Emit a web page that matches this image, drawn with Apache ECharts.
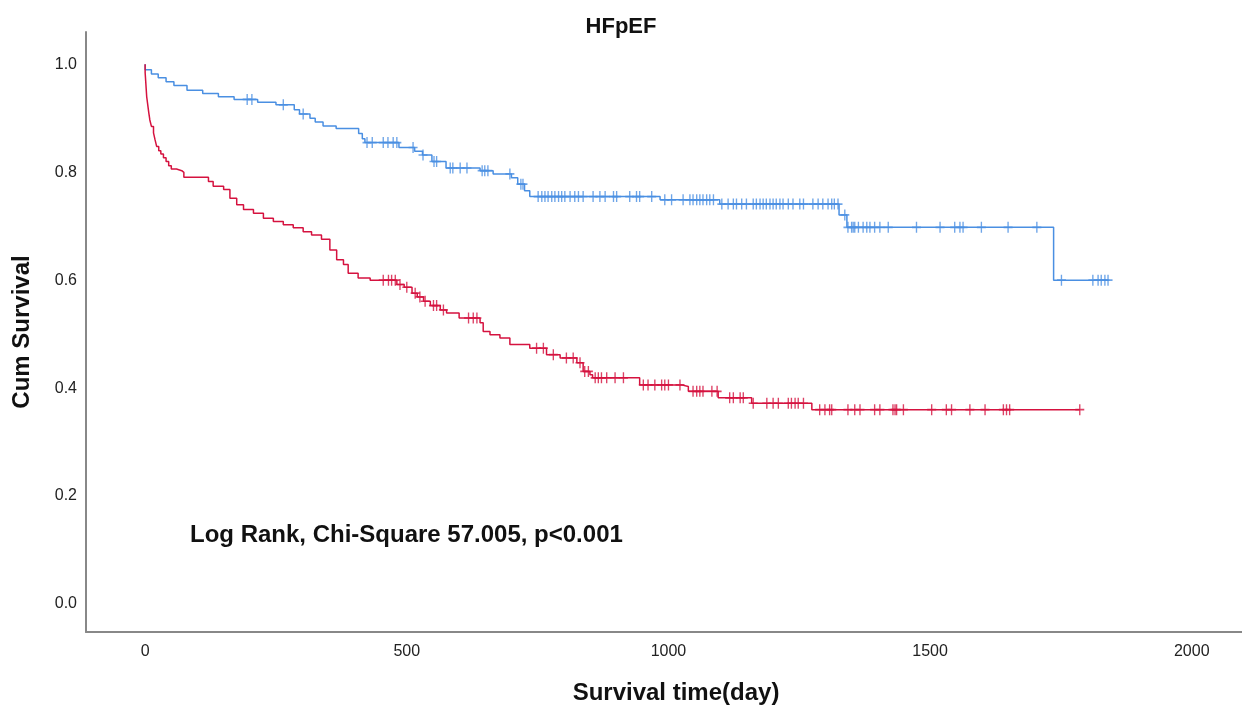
<!DOCTYPE html>
<html>
<head>
<meta charset="utf-8">
<title>HFpEF</title>
<script src="https://cdn.jsdelivr.net/npm/echarts@6.0.0/dist/echarts.min.js"></script>
<style>
  html, body { margin: 0; padding: 0; background: #fff; }
  #chart { width: 1242px; height: 706px; }
</style>
</head>
<body>
<div id="chart"></div>
<script>
// Kaplan-Meier curves, values
// step times (day) and survival after each step

var xTicks = [0, 500, 1000, 1500, 2000];
var yTicks = [0, 0.2, 0.4, 0.6, 0.8, 1.0];

var blueTimes = [0, 12, 25, 40, 55, 80, 110, 140, 170, 215, 250, 285, 295, 315, 325, 340, 365,
  408, 415, 420, 485, 515, 530, 548, 575, 640, 665, 700, 712, 725, 735, 984, 1098, 1326, 1341, 1736];
var blueSurv = [0.99, 0.982, 0.975, 0.968, 0.961, 0.952, 0.946, 0.94, 0.935, 0.93, 0.925, 0.916, 0.908, 0.9, 0.893, 0.886, 0.881,
  0.872, 0.862, 0.855, 0.846, 0.839, 0.832, 0.82, 0.808, 0.803, 0.797, 0.79, 0.778, 0.766, 0.755, 0.749, 0.741, 0.721, 0.698, 0.6];
var blueCensor = [195, 204, 264, 302, 424, 434, 455, 464, 474, 481, 512, 531, 552, 557, 583, 588, 602, 615,
  644, 649, 655, 697, 718, 722, 751, 758, 764, 770, 777, 783, 790, 796, 802, 812, 821, 828, 837, 856, 869, 879,
  895, 901, 926, 939, 945, 968, 993, 1006, 1028, 1041, 1047, 1054, 1060, 1066, 1073, 1079, 1086, 1102, 1114,
  1124, 1130, 1140, 1149, 1162, 1168, 1175, 1181, 1187, 1194, 1200, 1206, 1213, 1219, 1229, 1238, 1251, 1258,
  1276, 1286, 1295, 1305, 1312, 1317, 1324, 1337, 1343, 1350, 1353, 1356, 1363, 1372, 1379, 1385, 1394, 1404,
  1420, 1474, 1519, 1547, 1557, 1563, 1598, 1649, 1704, 1751, 1811, 1821, 1827, 1834, 1840];

var redTimes = [0, 1, 2, 3, 5, 7, 9, 12, 16, 19, 22, 26, 30, 35, 40, 45, 50, 60, 70, 74, 121, 130, 150, 162, 175,
  188, 207, 226, 245, 264, 283, 302, 318, 337, 353, 366, 379, 388, 407, 430, 481, 495, 510, 520, 532, 545, 564,
  576, 600, 640, 646, 659, 678, 697, 735, 767, 793, 825, 837, 850, 855, 945, 1025, 1038, 1095, 1159, 1274];
var redSurv = [0.985, 0.97, 0.955, 0.94, 0.925, 0.91, 0.897, 0.885, 0.873, 0.86, 0.848, 0.84, 0.834, 0.827, 0.82,
  0.812, 0.806, 0.803, 0.8, 0.791, 0.783, 0.774, 0.768, 0.752, 0.74, 0.731, 0.724, 0.715, 0.709, 0.703, 0.697,
  0.69, 0.684, 0.676, 0.656, 0.638, 0.629, 0.613, 0.604, 0.6, 0.592, 0.587, 0.576, 0.569, 0.561, 0.553, 0.545,
  0.539, 0.53, 0.521, 0.505, 0.499, 0.493, 0.481, 0.474, 0.462, 0.456, 0.447, 0.431, 0.425, 0.419, 0.406, 0.403,
  0.394, 0.382, 0.372, 0.36];
var redCensor = [455, 465, 471, 478, 487, 500, 516, 525, 535, 551, 557, 570, 618, 627, 634, 748, 761, 780, 805,
  818, 831, 840, 847, 860, 866, 872, 882, 898, 914, 952, 961, 974, 987, 993, 1000, 1022, 1047, 1054, 1060, 1066,
  1083, 1093, 1117, 1124, 1137, 1143, 1162, 1188, 1200, 1210, 1229, 1235, 1242, 1248, 1258, 1289, 1299, 1308,
  1312, 1343, 1356, 1366, 1394, 1404, 1429, 1433, 1436, 1449, 1503, 1531, 1541, 1576, 1605, 1640, 1646, 1652, 1786];

var blueColor = "#4a8fe2";
var redColor = "#d5123f";

// survival at a given time = value of the last step at or before it
function survAt(times, surv, t) {
  var s = 1;
  for (var i = 0; i < times.length; i++) {
    if (times[i] <= t) s = surv[i];
  }
  return s;
}

function lineData(times, surv, censor) {
  var data = [[0, 1]];
  for (var i = 0; i < times.length; i++) {
    data.push([times[i], surv[i]]);
  }
  var end = censor[censor.length - 1];
  data.push([end, surv[surv.length - 1]]);
  return data;
}

function censorData(times, surv, censor) {
  var data = [];
  for (var i = 0; i < censor.length; i++) {
    data.push([censor[i], survAt(times, surv, censor[i])]);
  }
  return data;
}

var plusPath = "path://M0,5L10,5M5,0L5,10";
var font = "Liberation Sans, Arial, sans-serif";

var chart = echarts.init(document.getElementById("chart"));
var option = {
  animation: false,
  backgroundColor: "#fff",
  title: {
    text: "HFpEF",
    left: "center",
    top: 11,
    textStyle: { fontFamily: font, fontSize: 22, fontWeight: "bold", color: "#111" },
  },
  grid: { left: 86, right: 0, top: 32, bottom: 74, outerBoundsMode: "none" },
  xAxis: {
    type: "value",
    min: -113,
    max: 2096,
    name: "Survival time(day)",
    nameLocation: "middle",
    nameGap: 49,
    nameTextStyle: { fontFamily: font, fontSize: 24, fontWeight: "bold", color: "#111", padding: [0, 0, 0, 24] },
    axisLine: { onZero: false, lineStyle: { color: "#888", width: 2 } },
    axisTick: { show: false },
    splitLine: { show: false },
    axisLabel: {
      customValues: xTicks,
      margin: 12,
      fontFamily: font,
      fontSize: 16,
      color: "#222",
      formatter: function (v) { return String(v); },
    },
  },
  yAxis: {
    type: "value",
    min: -0.052,
    max: 1.06,
    name: "Cum Survival",
    nameLocation: "middle",
    nameGap: 52,
    nameRotate: 90,
    nameTextStyle: { fontFamily: font, fontSize: 24, fontWeight: "bold", color: "#111" },
    axisLine: { show: true, onZero: false, lineStyle: { color: "#888", width: 2 } },
    axisTick: { show: false },
    splitLine: { show: false },
    axisLabel: {
      customValues: yTicks,
      margin: 9,
      fontFamily: font,
      fontSize: 16,
      color: "#222",
      formatter: function (v) { return v.toFixed(1); },
    },
  },
  graphic: [
    {
      type: "text",
      left: 190,
      top: 523,
      style: {
        text: "Log Rank, Chi-Square 57.005, p<0.001",
        font: "bold 24px " + font,
        fill: "#111",
      },
    },
  ],
  series: [
    {
      name: "blue",
      type: "line",
      step: "end",
      showSymbol: false,
      lineStyle: { color: blueColor, width: 1.5 },
      data: lineData(blueTimes, blueSurv, blueCensor),
    },
    {
      name: "red",
      type: "line",
      step: "end",
      showSymbol: false,
      lineStyle: { color: redColor, width: 1.5 },
      data: lineData(redTimes, redSurv, redCensor),
    },
    {
      name: "blue censored",
      type: "scatter",
      symbol: plusPath,
      symbolSize: [9, 11],
      itemStyle: { color: "transparent", borderColor: blueColor, borderWidth: 1.5 },
      data: censorData(blueTimes, blueSurv, blueCensor),
    },
    {
      name: "red censored",
      type: "scatter",
      symbol: plusPath,
      symbolSize: [9, 11],
      itemStyle: { color: "transparent", borderColor: redColor, borderWidth: 1.5 },
      data: censorData(redTimes, redSurv, redCensor),
    },
  ],
};
chart.setOption(option);
</script>
</body>
</html>
